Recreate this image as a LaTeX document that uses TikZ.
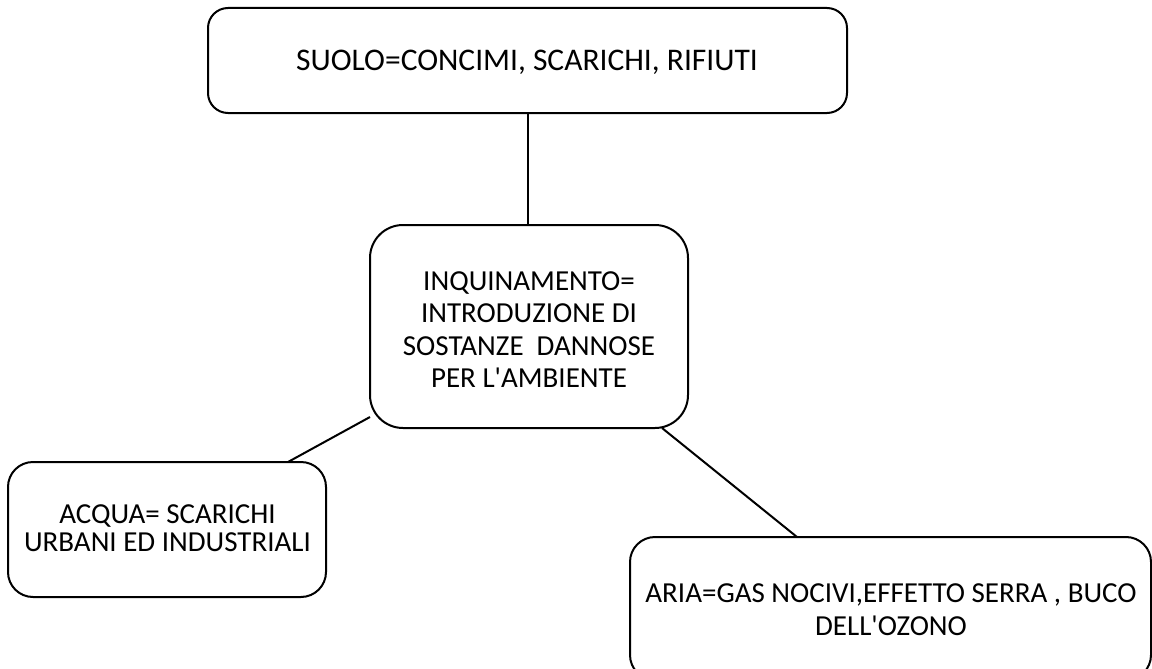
\documentclass[tikz,border=0pt]{standalone}
\usepackage{fontspec}
\setmainfont{Carlito}[Ligatures=TeXOff]
\usetikzlibrary{calc}
\begin{document}
\begin{tikzpicture}[x=1pt,y=-1pt,
  box/.style={draw=black,line width=2pt,rectangle,inner sep=0pt},
  txt/.style={align=center,inner sep=0pt,font=\fontsize{29pt}{32.5pt}\selectfont},
  conn/.style={line width=2pt}]
\useasboundingbox (0,0) rectangle (1152,669);
% boxes
\node[box,rounded corners=20pt,minimum width=639pt,minimum height=105pt] (suolo) at (527.5,60.5) {};
\node[box,rounded corners=33pt,minimum width=318pt,minimum height=203pt] (inq) at (529,326.5) {};
\node[box,rounded corners=25pt,minimum width=318pt,minimum height=135pt] (acqua) at (167,529.5) {};
\node[box,rounded corners=25pt,minimum width=521pt,minimum height=143pt] (aria) at (890.5,608.5) {};
% texts
\node[txt,font=\fontsize{31.5pt}{35pt}\selectfont] (tsuolo) at (527,62.5) {SUOLO=CONCIMI, SCARICHI, RIFIUTI};
\node[txt] (tinq) at (529,329.5) {INQUINAMENTO=\\INTRODUZIONE DI\\SOSTANZE\ \ DANNOSE\\PER L'AMBIENTE};
\node[txt,font=\fontsize{29pt}{28.5pt}\selectfont] (tacqua) at (167.5,528) {ACQUA= SCARICHI\\URBANI ED INDUSTRIALI};
\node[txt] (taria) at (891,609.5) {ARIA=GAS NOCIVI,EFFETTO SERRA , BUCO\\DELL'OZONO};
% connectors
\coordinate (a1) at (528,113);
\coordinate (a2) at (528,225);
\draw[conn] (a1) -- (a2);
\coordinate (b1) at (370,417);
\coordinate (b2) at (288,462);
\draw[conn] (b1) -- (b2);
\coordinate (c1) at (662,428);
\coordinate (c2) at (797,537);
\draw[conn] (c1) -- (c2);
\end{tikzpicture}
\end{document}
